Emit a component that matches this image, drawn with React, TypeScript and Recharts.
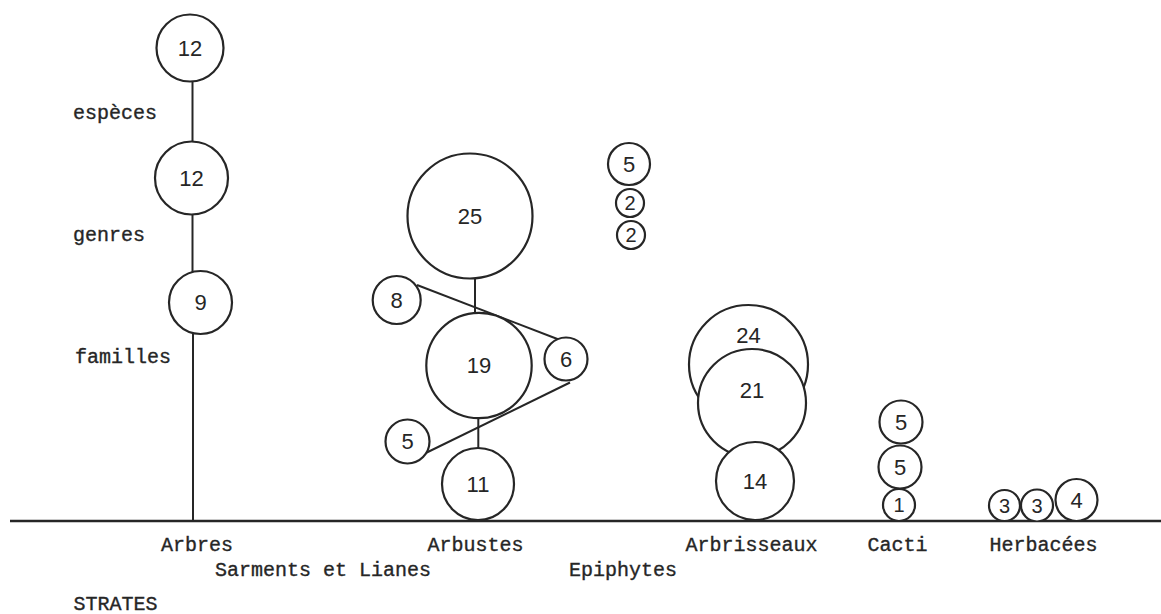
import React from 'react';
import { ComposedChart, Scatter, XAxis, YAxis } from 'recharts';

const W = 1161;
const H = 614;
const AXIS_H = 93;
const MARGIN = { top: 0, right: 0, bottom: 0, left: 10 };
const X_DOMAIN: [number, number] = [1, 116.1];
const Y_DOMAIN: [number, number] = [0, 52.1];
const PX = (W - MARGIN.left - MARGIN.right) / (X_DOMAIN[1] - X_DOMAIN[0]);

const INK = '#262626';
const MONO = "'Liberation Mono', 'DejaVu Sans Mono', monospace";
const SANS = "'Liberation Sans Narrow', 'Liberation Sans', Arial, sans-serif";

// Circles per strate: value shown, centre (x, y), radius r (chart units), optional label height
const arbresCircles = [
  { value: 12, x: 19.0, y: 47.3, r: 3.35 },
  { value: 12, x: 19.15, y: 34.3, r: 3.65 },
  { value: 9, x: 20.05, y: 21.85, r: 3.15 },
];
const arbustesCircles = [
  { value: 25, x: 47.0, y: 30.5, r: 6.25 },
  { value: 8, x: 39.67, y: 22.1, r: 2.4 },
  { value: 19, x: 47.9, y: 15.55, r: 5.27 },
  { value: 6, x: 56.6, y: 16.2, r: 2.15 },
  { value: 5, x: 40.75, y: 7.95, r: 2.2 },
  { value: 11, x: 47.8, y: 3.7, r: 3.6 },
];
const epiphytesCircles = [
  { value: 5, x: 62.9, y: 35.7, r: 2.1 },
  { value: 2, x: 63.0, y: 31.8, r: 1.4 },
  { value: 2, x: 63.1, y: 28.6, r: 1.4 },
];
const arbrisseauxCircles = [
  { value: 24, x: 74.85, y: 15.65, r: 5.95, labelY: 18.6 },
  { value: 21, x: 75.2, y: 11.8, r: 5.4, labelY: 13.1 },
  { value: 14, x: 75.5, y: 4.0, r: 3.9 },
];
const cactiCircles = [
  { value: 5, x: 90.1, y: 9.9, r: 2.15 },
  { value: 5, x: 90.0, y: 5.4, r: 2.15 },
  { value: 1, x: 89.9, y: 1.6, r: 1.6 },
];
const herbaceesCircles = [
  { value: 3, x: 100.45, y: 1.55, r: 1.55 },
  { value: 3, x: 103.7, y: 1.55, r: 1.6 },
  { value: 4, x: 107.65, y: 2.1, r: 2.1 },
];

// Connecting strokes (edge to edge)
const connectors = [
  [{ x: 19.25, y: 43.9 }, { x: 19.25, y: 37.9 }],
  [{ x: 19.25, y: 30.8 }, { x: 19.25, y: 24.9 }],
  [{ x: 19.3, y: 18.8 }, { x: 19.3, y: 0 }],
  [{ x: 47.5, y: 24.3 }, { x: 47.5, y: 20.8 }],
  [{ x: 47.83, y: 10.3 }, { x: 47.83, y: 7.3 }],
  [{ x: 41.7, y: 23.6 }, { x: 56.0, y: 18.1 }],
  [{ x: 57.0, y: 13.85 }, { x: 42.17, y: 6.6 }],
];

// Level labels on the left
const levelLabels = [
  { label: 'espèces', x: 7.3, y: 40.8 },
  { label: 'genres', x: 7.3, y: 28.6 },
  { label: 'familles', x: 7.5, y: 16.4 },
];

// Strate tick labels below the base line
const strateTicks = [
  { x: 19.7, label: 'Arbres', row: 1 },
  { x: 32.3, label: 'Sarments et Lianes', row: 2 },
  { x: 47.55, label: 'Arbustes', row: 1 },
  { x: 62.3, label: 'Epiphytes', row: 2 },
  { x: 75.15, label: 'Arbrisseaux', row: 1 },
  { x: 89.75, label: 'Cacti', row: 1 },
  { x: 104.35, label: 'Herbacées', row: 1 },
  { x: 11.55, label: 'STRATES', row: 3 },
];
const ROW_OFFSET = [0, 24, 49, 83];

const allCircles = [
  ...arbresCircles,
  ...arbustesCircles,
  ...epiphytesCircles,
  ...arbrisseauxCircles,
  ...cactiCircles,
  ...herbaceesCircles,
];

const CircleShape = (props: any) => {
  const { cx, cy, payload } = props;
  if (cx == null || cy == null || !payload) return <g />;
  const rPx = payload.r * PX;
  const ly = payload.labelY != null ? cy - (payload.labelY - payload.y) * PX : cy;
  const fs = payload.r < 1.8 ? 20 : 22;
  return (
    <g>
      <circle cx={cx} cy={cy} r={rPx} fill="#ffffff" stroke={INK} strokeWidth={2.2} />
      <text
        x={cx}
        y={ly}
        textAnchor="middle"
        dominantBaseline="central"
        fontFamily={SANS}
        fontSize={fs}
        fill={INK}
      >
        {payload.value}
      </text>
    </g>
  );
};

const LevelLabelShape = (props: any) => {
  const { cx, cy, payload } = props;
  if (cx == null || cy == null) return <g />;
  return (
    <text
      x={cx}
      y={cy}
      textAnchor="start"
      dominantBaseline="central"
      fontFamily={MONO}
      fontSize={20}
      fill={INK}
      stroke={INK}
      strokeWidth={0.35}
    >
      {payload.label}
    </text>
  );
};

const StrateTick = (props: any) => {
  const { x, y, payload } = props;
  const t = strateTicks.find((s) => s.x === payload.value);
  if (!t) return <g />;
  return (
    <text
      x={x}
      y={y + ROW_OFFSET[t.row]}
      textAnchor="middle"
      dominantBaseline="central"
      fontFamily={MONO}
      fontSize={20}
      fill={INK}
      stroke={INK}
      strokeWidth={0.35}
    >
      {t.label}
    </text>
  );
};

const NoDot = () => <g />;

export default function App() {
  return (
    <div style={{ position: 'absolute', left: 0, top: 0, width: W, height: H, background: '#ffffff' }}>
      <ComposedChart width={W} height={H} margin={MARGIN}>
        <XAxis
          type="number"
          dataKey="x"
          domain={X_DOMAIN}
          allowDataOverflow
          height={AXIS_H}
          ticks={strateTicks.map((t) => t.x)}
          interval={0}
          tick={<StrateTick />}
          tickLine={false}
          tickSize={0}
          tickMargin={0}
          axisLine={{ stroke: INK, strokeWidth: 2.4 }}
        />
        <YAxis type="number" dataKey="y" domain={Y_DOMAIN} allowDataOverflow hide />
        {connectors.map((seg, i) => (
          <Scatter
            key={'c' + i}
            data={seg}
            line={{ stroke: INK, strokeWidth: 2 }}
            lineType="joint"
            shape={<NoDot />}
            isAnimationActive={false}
          />
        ))}
        <Scatter data={allCircles} shape={<CircleShape />} isAnimationActive={false} />
        <Scatter data={levelLabels} shape={<LevelLabelShape />} isAnimationActive={false} />
      </ComposedChart>
    </div>
  );
}
